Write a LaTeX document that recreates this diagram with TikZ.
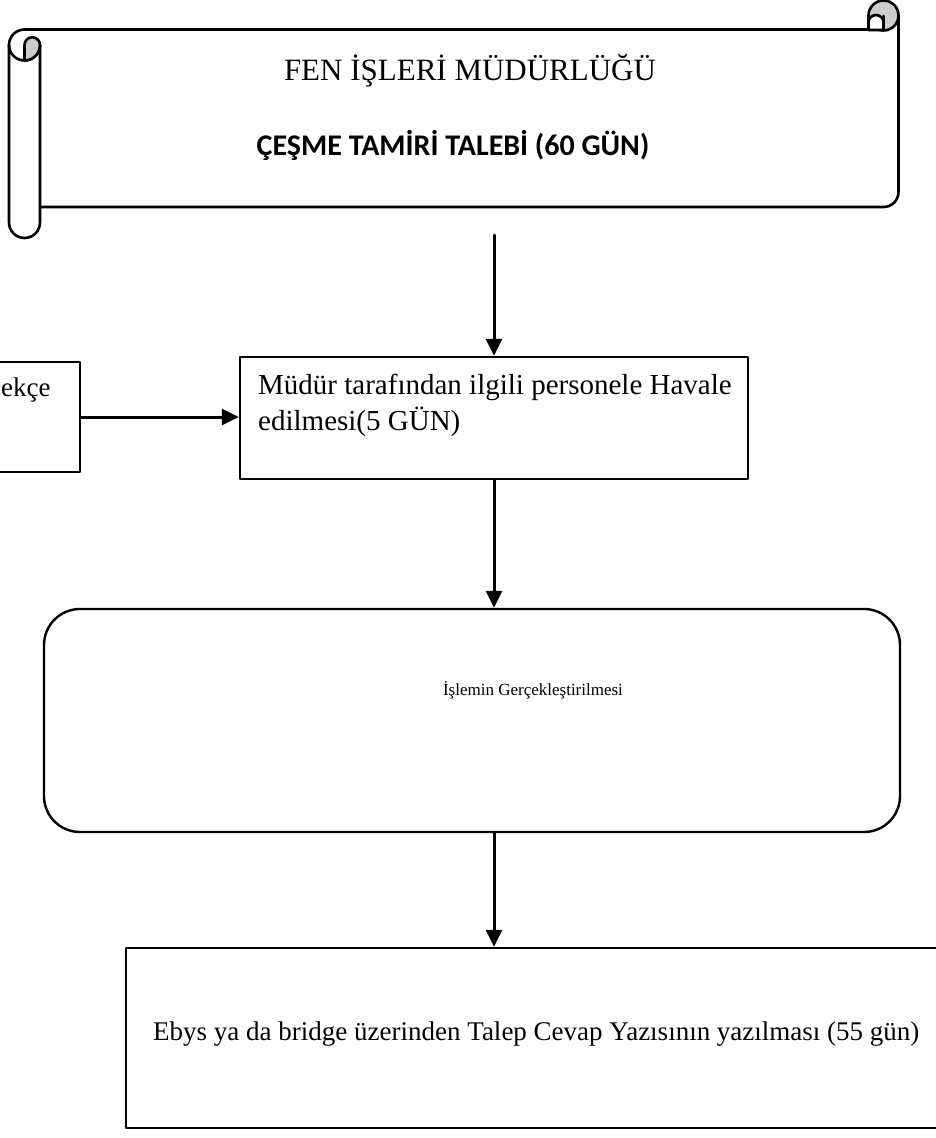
\documentclass[tikz,border=0pt]{standalone}
\usepackage{fontspec}
\setmainfont{Liberation Serif}
\newfontfamily\calibri{Carlito}
\usetikzlibrary{arrows.meta}

\begin{document}
\begin{tikzpicture}[line cap=round,line join=round,>={Triangle[length=17pt,width=16pt]},x=1pt,y=1pt,
  scroll/.style={line width=2.6pt},
  box/.style={draw,line width=2.4pt,rectangle,inner sep=0pt},
  conn/.style={->,line width=3pt},
  body/.style={inner sep=0pt,font=\fontsize{27}{36}\selectfont}]
\clip (0,0) rectangle (936,-1138);
\filldraw[scroll,fill=black!20] (883.5,-15.5) circle (15);
\filldraw[scroll,fill=white] (868.5,-30) -- (868.5,-22.5) arc (180:0:7.5) -- (883.5,-30) -- cycle;
\draw[scroll] (883.5,-16) -- (883.5,-30);
\draw[scroll] (24.5,-29.5) -- (868.5,-29.5) -- (868.5,-15.5);
\draw[scroll] (898.5,-15.5) -- (898.5,-192) arc (0:-90:15) -- (40,-207);
\draw[scroll] (9,-45) arc (180:90:15.5);
\draw[scroll] (9,-45) arc (180:360:15.5);
\filldraw[scroll,fill=black!20] (24.5,-60.5) -- (24.5,-45) arc (180:0:7.75) arc (0:-90:15.5) -- cycle;
\draw[scroll] (40,-45) -- (40,-222.5) arc (0:-180:15.5) -- (9,-45);
\node[font=\fontsize{31}{36}\selectfont,anchor=base] (birim) at (470,-80) {FEN İŞLERİ MÜDÜRLÜĞÜ};
\node[font=\calibri\bfseries\fontsize{30}{34}\selectfont,anchor=base] (talep) at (453,-155) {ÇEŞME TAMİRİ TALEBİ (60 GÜN)};
\coordinate (start) at (494,-235);
\node[box,minimum width=508pt,minimum height=122pt] (havale) at (494,-418) {};
\node[body,font=\fontsize{29}{36}\selectfont,anchor=north west,align=left] (havaletxt) at (258,-374) {Müdür tarafından ilgili personele Havale\\edilmesi(5 GÜN)};
\node[box,minimum width=160pt,minimum height=110pt] (dilekce) at (0,-417) {};
\node[body,anchor=base west] (dilekcetxt) at (1,-396) {ekçe};
\node[draw,line width=2.4pt,rounded corners=36pt,minimum width=856pt,minimum height=223pt] (islem) at (472,-720.5) {};
\node[font=\fontsize{17}{20}\selectfont] (islemtxt) at (533,-690) {İşlemin Gerçekleştirilmesi};
\node[box,minimum width=884pt,minimum height=180pt] (cevap) at (568,-1038) {};
\node[body,anchor=base west] (cevaptxt) at (153,-1040) {Ebys ya da bridge üzerinden Talep Cevap Yazısının yazılması (55 gün)};
\draw[conn] (start) -- (havale.north);
\draw[conn] (dilekce.east) -- (dilekce.east -| havale.west);
\draw[conn] (havale.south) -- (havale.south |- islem.north);
\draw[conn] (havale.south |- islem.south) -- (havale.south |- cevap.north);
\end{tikzpicture}
\end{document}
